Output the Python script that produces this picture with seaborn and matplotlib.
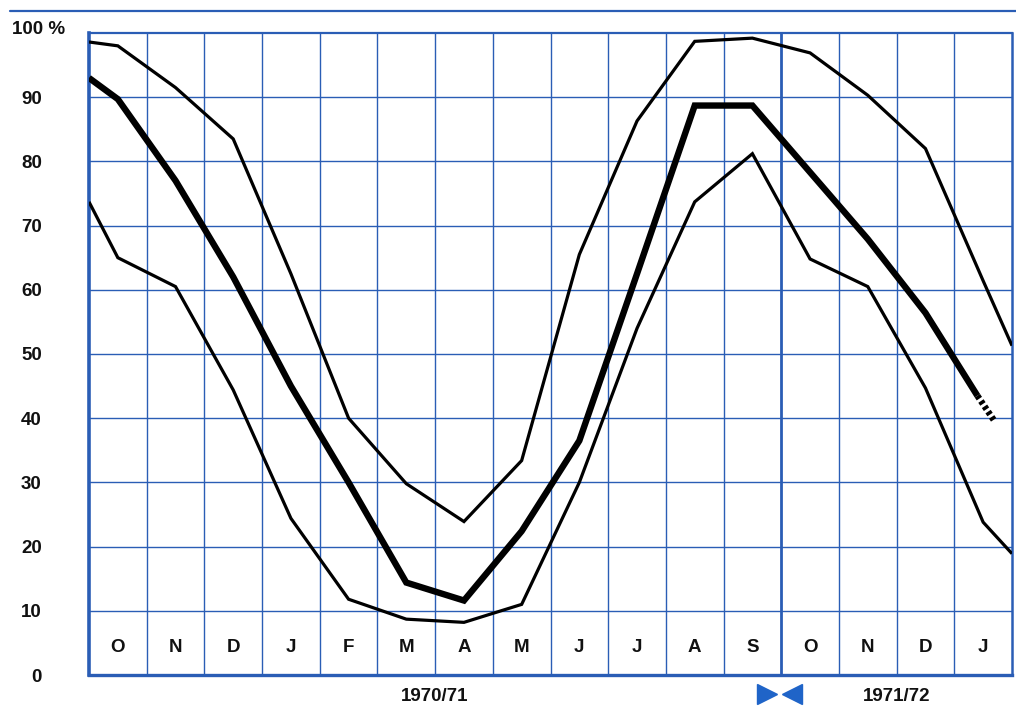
import matplotlib
matplotlib.use("Agg")
import matplotlib.pyplot as plt
import matplotlib.lines as mlines
from matplotlib.transforms import blended_transform_factory
import numpy as np
import pandas as pd
import seaborn as sns

# ---------------- data ----------------
months = ['O', 'N', 'D', 'J', 'F', 'M', 'A', 'M', 'J', 'J', 'A', 'S', 'O', 'N', 'D', 'J']
season_labels = ['1970/71', '1971/72']
y_ticks = [0, 10, 20, 30, 40, 50, 60, 70, 80, 90]
y_top_label = '100 %'

# values at the start edge, each month middle, and the end edge
upper_start = 98.6
upper = [98.0, 91.5, 83.5, 62.5, 40.0, 29.8, 23.9, 33.4, 65.5, 86.3, 98.7, 99.2, 96.9, 90.3, 82.0, 61.4]
upper_end = 51.3

mean_start = 93.0
mean = [89.7, 77.0, 62.0, 45.0, 30.0, 14.4, 11.6, 22.4, 36.5, 62.5, 88.7, 88.7, 78.3, 67.9, 56.4]
mean_jan_solid = 43.5
mean_jan_tail = 39.5

lower_start = 73.7
lower = [65.0, 60.5, 44.4, 24.4, 11.8, 8.7, 8.2, 11.0, 30.0, 54.0, 73.7, 81.2, 64.8, 60.5, 44.7, 23.8]
lower_end = 18.9

# ---------------- figure ----------------
sns.set_theme(style="white")
plt.rcParams['font.family'] = ['Liberation Sans', 'DejaVu Sans']

BLUE = '#2a5db5'
TXT = '#111111'
FS = 13.5
W, H = 1016, 711
fig = plt.figure(figsize=(W / 100, H / 100), dpi=100)
fig.patch.set_facecolor('white')
ax = fig.add_axes([89 / W, 1 - 675 / H, (1012 - 89) / W, (675 - 33) / H])

n = len(months)
mids = np.arange(n) + 0.5


def series_df(start, vals, end, name):
    xs = [0.0] + list(mids[:len(vals)]) + ([float(n)] if end is not None else [])
    ys = [start] + list(vals) + ([end] if end is not None else [])
    return pd.DataFrame({'x': xs, 'y': ys, 'series': name})


df_upper = series_df(upper_start, upper, upper_end, 'upper')
df_lower = series_df(lower_start, lower, lower_end, 'lower')
df_mean = series_df(mean_start, mean, None, 'mean')
df_mean = pd.concat([df_mean, pd.DataFrame({'x': [mids[-1] - 0.1], 'y': [mean_jan_solid], 'series': 'mean'})],
                    ignore_index=True)

for d, lw in [(df_upper, 2.3), (df_lower, 2.3), (df_mean, 4.6)]:
    sns.lineplot(data=d, x='x', y='y', ax=ax, color='black', linewidth=lw,
                 estimator=None, sort=False, legend=False,
                 solid_joinstyle='miter', solid_capstyle='butt', zorder=5)

# dotted continuation of the mean line
ax.plot([mids[-1] - 0.1, mids[-1] + 0.2], [mean_jan_solid, mean_jan_tail], color='black',
        linewidth=4.6, linestyle=(0, (0.55, 0.45)), solid_capstyle='butt', zorder=5)

ax.set_xlim(0, n)
ax.set_ylim(0, 100)

# grid
for xv in range(1, n):
    ax.axvline(xv, color=BLUE, linewidth=2.0 if xv == 12 else 1.0, zorder=1)
for yv in y_ticks[1:]:
    ax.axhline(yv, color=BLUE, linewidth=1.0, zorder=1)

for side, lw in [('left', 2.6), ('bottom', 2.4), ('top', 1.6), ('right', 1.8)]:
    ax.spines[side].set_visible(True)
    ax.spines[side].set_color(BLUE)
    ax.spines[side].set_linewidth(lw)

ax.set_xlabel('')
ax.set_ylabel('')
ax.set_xticks([])
ax.set_yticks(y_ticks)
ax.set_yticklabels([str(v) for v in y_ticks], fontweight='bold', fontsize=FS, color=TXT)
ax.tick_params(axis='y', length=0, pad=34)

# 100 % label
tr_fig_data = blended_transform_factory(fig.transFigure, ax.transData)
ax.text(12 / W, 100.6, y_top_label, transform=tr_fig_data, ha='left', va='center',
        fontweight='bold', fontsize=FS, color=TXT)

# month labels inside the bottom row
for i, m in enumerate(months):
    ax.text(mids[i], 4.3, m, ha='center', va='center', fontweight='bold', fontsize=FS,
            color=TXT, zorder=6)

# season labels below
tr_data_axes = blended_transform_factory(ax.transData, ax.transAxes)
ax.text(6.0, -0.034, season_labels[0], transform=tr_data_axes, ha='center', va='center',
        fontweight='bold', fontsize=FS, color=TXT)
ax.text(14.0, -0.034, season_labels[1], transform=tr_data_axes, ha='center', va='center',
        fontweight='bold', fontsize=FS, color=TXT)

# boundary markers
ax.plot([11.76], [-0.029], marker='>', markersize=14, color='#1f64c8', transform=tr_data_axes,
        clip_on=False, linestyle='none')
ax.plot([12.19], [-0.029], marker='<', markersize=14, color='#1f64c8', transform=tr_data_axes,
        clip_on=False, linestyle='none')

# top rule
fig.add_artist(mlines.Line2D([10 / W, 1.0], [1 - 10.5 / H, 1 - 10.5 / H], color=BLUE,
                             linewidth=1.6, transform=fig.transFigure))

fig.savefig('out.png', dpi=100, facecolor='white')
